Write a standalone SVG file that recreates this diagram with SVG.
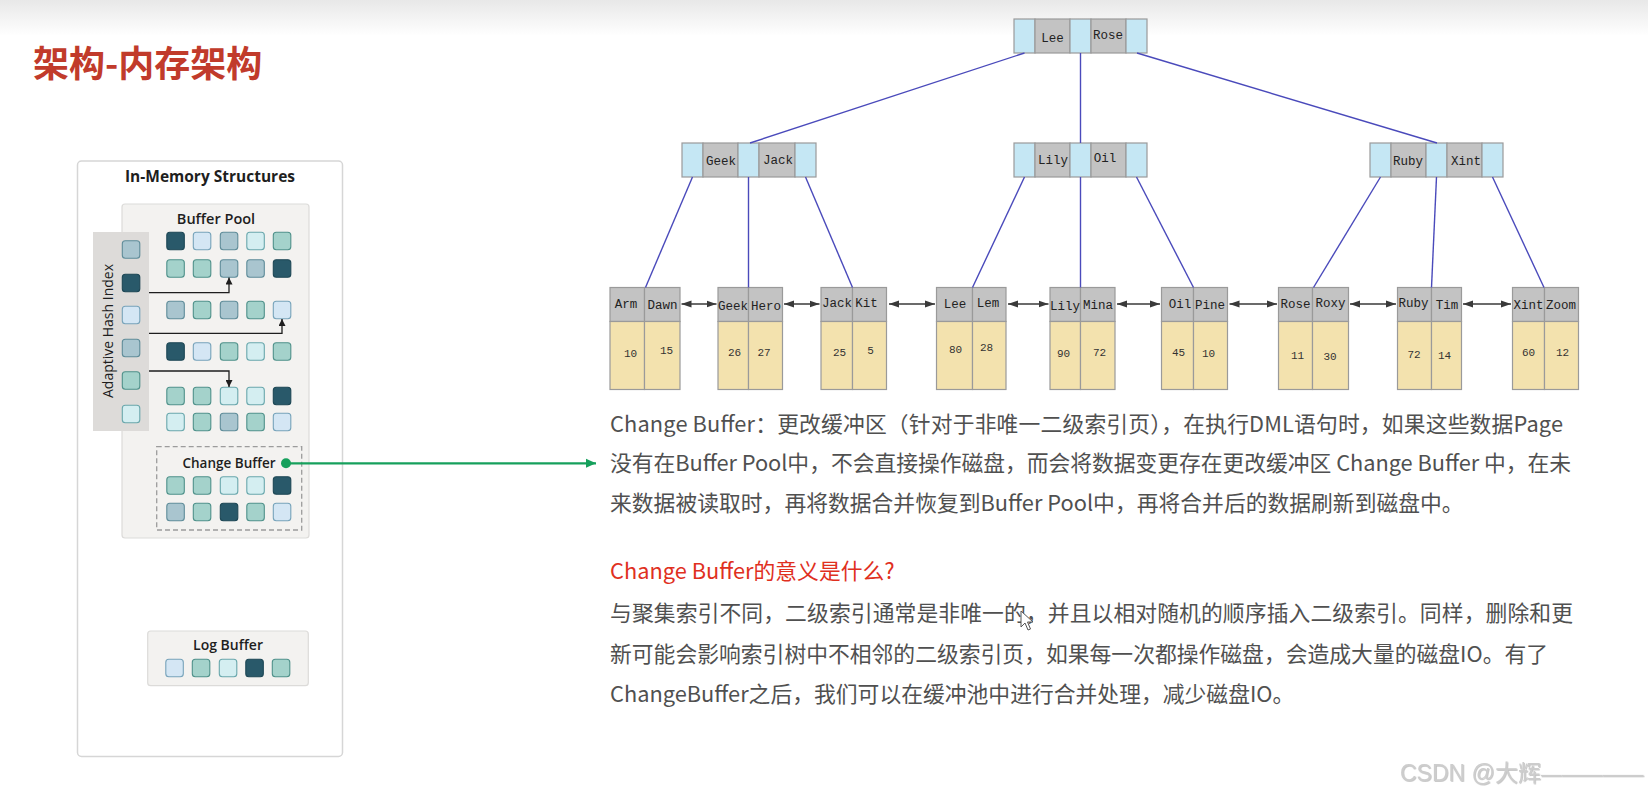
<svg xmlns="http://www.w3.org/2000/svg" width="1648" height="803" viewBox="0 0 1648 803">
<defs>
<linearGradient id="topfade" x1="0" y1="0" x2="0" y2="1">
<stop offset="0" stop-color="#e8e8e8"/>
<stop offset="1" stop-color="#ffffff"/>
</linearGradient>
<marker id="ahBlack" viewBox="0 0 8 8" refX="8" refY="4" markerWidth="7" markerHeight="7" markerUnits="userSpaceOnUse" orient="auto"><path d="M0,0 L8,4 L0,8 Z" fill="#1e1e1e"/></marker>
<marker id="ahLeaf" viewBox="0 0 10 8" refX="10" refY="4" markerWidth="10" markerHeight="8" markerUnits="userSpaceOnUse" orient="auto-start-reverse"><path d="M0,0.6 L10,4 L0,7.4 Z" fill="#3a3a3a"/></marker>
<marker id="ahGreen" viewBox="0 0 10 10" refX="10" refY="5" markerWidth="10" markerHeight="10" markerUnits="userSpaceOnUse" orient="auto"><path d="M0,0.5 L10,5 L0,9.5 Z" fill="#16a05c"/></marker>
<filter id="emboss" x="-5%" y="-20%" width="110%" height="140%"><feDropShadow dx="0.8" dy="0.8" stdDeviation="0.4" flood-color="#7a7a7a" flood-opacity="0.5"/></filter>
</defs>
<style>
.sq{stroke-width:1.1}
.d{fill:#29596a;stroke:#1d4755}
.g{fill:#a9c5cf;stroke:#5f8c99}
.t{fill:#a4d2cb;stroke:#4f918a}
.b{fill:#d4e6f4;stroke:#77a3ba}
.c{fill:#d4eef1;stroke:#69a7ac}
.blue{fill:#c5e7f4;stroke:#9a9a9a;stroke-width:1.2}
.gray{fill:#c3c3c3;stroke:#9a9a9a;stroke-width:1.2}
.data{fill:#f3e2ae;stroke:#9a9a9a;stroke-width:1.2}
.mono{font-family:"Liberation Mono","Courier New",monospace;font-size:12.5px;fill:#222;text-anchor:middle}
.num{font-family:"Liberation Mono","Courier New",monospace;font-size:11px;fill:#333;text-anchor:middle}
.link{stroke:#4a4abb;stroke-width:1.4;fill:none}
.dbl{stroke:#3a3a3a;stroke-width:1.3;fill:none;marker-start:url(#ahLeaf);marker-end:url(#ahLeaf)}
.hash{stroke:#1e1e1e;stroke-width:1.3;fill:none;marker-end:url(#ahBlack)}
.panel{fill:#f3f2f0;stroke:#dcdbd9;stroke-width:1.2}
.os{font-family:"Open Sans","Liberation Sans",sans-serif;fill:#1e1e1e;text-anchor:middle}
.para{font-family:"Noto Sans CJK SC","Noto Sans",sans-serif;font-size:21.8px;fill:#505050}
</style>

<rect x="0" y="0" width="1648" height="36" fill="url(#topfade)"/>

<text x="33" y="77" font-family="Noto Sans CJK SC, sans-serif" font-size="36" font-weight="700" fill="#c13b2b">架构-内存架构</text>

<!-- Left panel -->
<g id="in-memory-structures">
<rect x="77.5" y="161" width="265" height="595.5" rx="4" fill="#ffffff" stroke="#d6d6d6" stroke-width="1.5"/>
<text class="os" x="210" y="182" font-size="15.5" font-weight="700">In-Memory Structures</text>
</g>

<g id="buffer-pool">
<rect class="panel" x="122" y="204" width="187" height="334" rx="3"/>
<text class="os" x="216" y="224" font-size="14.5" font-weight="600">Buffer Pool</text>
<rect class="sq d" x="166.8" y="232.3" width="17.5" height="17.5" rx="3"/>
<rect class="sq b" x="193.3" y="232.3" width="17.5" height="17.5" rx="3"/>
<rect class="sq g" x="220.3" y="232.3" width="17.5" height="17.5" rx="3"/>
<rect class="sq c" x="246.8" y="232.3" width="17.5" height="17.5" rx="3"/>
<rect class="sq t" x="273.3" y="232.3" width="17.5" height="17.5" rx="3"/>
<rect class="sq t" x="166.8" y="259.8" width="17.5" height="17.5" rx="3"/>
<rect class="sq t" x="193.3" y="259.8" width="17.5" height="17.5" rx="3"/>
<rect class="sq g" x="220.3" y="259.8" width="17.5" height="17.5" rx="3"/>
<rect class="sq g" x="246.8" y="259.8" width="17.5" height="17.5" rx="3"/>
<rect class="sq d" x="273.3" y="259.8" width="17.5" height="17.5" rx="3"/>
<rect class="sq g" x="166.8" y="301.3" width="17.5" height="17.5" rx="3"/>
<rect class="sq t" x="193.3" y="301.3" width="17.5" height="17.5" rx="3"/>
<rect class="sq g" x="220.3" y="301.3" width="17.5" height="17.5" rx="3"/>
<rect class="sq t" x="246.8" y="301.3" width="17.5" height="17.5" rx="3"/>
<rect class="sq b" x="273.3" y="301.3" width="17.5" height="17.5" rx="3"/>
<rect class="sq d" x="166.8" y="342.8" width="17.5" height="17.5" rx="3"/>
<rect class="sq b" x="193.3" y="342.8" width="17.5" height="17.5" rx="3"/>
<rect class="sq t" x="220.3" y="342.8" width="17.5" height="17.5" rx="3"/>
<rect class="sq c" x="246.8" y="342.8" width="17.5" height="17.5" rx="3"/>
<rect class="sq t" x="273.3" y="342.8" width="17.5" height="17.5" rx="3"/>
<rect class="sq t" x="166.8" y="387.3" width="17.5" height="17.5" rx="3"/>
<rect class="sq t" x="193.3" y="387.3" width="17.5" height="17.5" rx="3"/>
<rect class="sq c" x="220.3" y="387.3" width="17.5" height="17.5" rx="3"/>
<rect class="sq c" x="246.8" y="387.3" width="17.5" height="17.5" rx="3"/>
<rect class="sq d" x="273.3" y="387.3" width="17.5" height="17.5" rx="3"/>
<rect class="sq c" x="166.8" y="413.3" width="17.5" height="17.5" rx="3"/>
<rect class="sq t" x="193.3" y="413.3" width="17.5" height="17.5" rx="3"/>
<rect class="sq g" x="220.3" y="413.3" width="17.5" height="17.5" rx="3"/>
<rect class="sq t" x="246.8" y="413.3" width="17.5" height="17.5" rx="3"/>
<rect class="sq b" x="273.3" y="413.3" width="17.5" height="17.5" rx="3"/>
</g>

<g id="adaptive-hash-index">
<rect x="93" y="232" width="56" height="199" fill="#dddbd9"/>
<text class="os" transform="translate(113,331) rotate(-90)" font-size="14" font-weight="400" fill="#2a2a2a">Adaptive Hash Index</text>
<rect class="sq g" x="122.3" y="240.8" width="17.5" height="17.5" rx="3"/>
<rect class="sq d" x="122.3" y="274.3" width="17.5" height="17.5" rx="3"/>
<rect class="sq b" x="122.3" y="306.3" width="17.5" height="17.5" rx="3"/>
<rect class="sq g" x="122.3" y="339.3" width="17.5" height="17.5" rx="3"/>
<rect class="sq t" x="122.3" y="371.8" width="17.5" height="17.5" rx="3"/>
<rect class="sq c" x="122.3" y="405.3" width="17.5" height="17.5" rx="3"/>
</g>

<g id="change-buffer">
<rect x="156.7" y="446.7" width="145" height="83.3" fill="none" stroke="#9c9c9c" stroke-width="1.3" stroke-dasharray="5,3"/>
<text class="os" x="229" y="467.5" font-size="13.5" font-weight="600">Change Buffer</text>
<rect class="sq t" x="166.8" y="476.8" width="17.5" height="17.5" rx="3"/>
<rect class="sq t" x="193.3" y="476.8" width="17.5" height="17.5" rx="3"/>
<rect class="sq c" x="220.3" y="476.8" width="17.5" height="17.5" rx="3"/>
<rect class="sq c" x="246.8" y="476.8" width="17.5" height="17.5" rx="3"/>
<rect class="sq d" x="273.3" y="476.8" width="17.5" height="17.5" rx="3"/>
<rect class="sq g" x="166.8" y="503.3" width="17.5" height="17.5" rx="3"/>
<rect class="sq t" x="193.3" y="503.3" width="17.5" height="17.5" rx="3"/>
<rect class="sq d" x="220.3" y="503.3" width="17.5" height="17.5" rx="3"/>
<rect class="sq t" x="246.8" y="503.3" width="17.5" height="17.5" rx="3"/>
<rect class="sq b" x="273.3" y="503.3" width="17.5" height="17.5" rx="3"/>
</g>

<g id="log-buffer">
<rect class="panel" x="147.7" y="631" width="160.6" height="54.7" rx="3"/>
<text class="os" x="228" y="650" font-size="14" font-weight="600">Log Buffer</text>
<rect class="sq b" x="165.8" y="659.3" width="17.5" height="17.5" rx="3"/>
<rect class="sq t" x="192.3" y="659.3" width="17.5" height="17.5" rx="3"/>
<rect class="sq c" x="219.3" y="659.3" width="17.5" height="17.5" rx="3"/>
<rect class="sq d" x="245.8" y="659.3" width="17.5" height="17.5" rx="3"/>
<rect class="sq t" x="272.3" y="659.3" width="17.5" height="17.5" rx="3"/>
</g>

<!-- B+ tree nodes -->
<g id="node-root">
<rect class="blue" x="1014" y="19" width="21" height="34"/>
<rect class="gray" x="1035" y="19" width="35" height="34"/>
<rect class="blue" x="1070" y="19" width="21" height="34"/>
<rect class="gray" x="1091" y="19" width="35" height="34"/>
<rect class="blue" x="1126" y="19" width="21" height="34"/>
<text class="mono" x="1052.5" y="42">Lee</text>
<text class="mono" x="1108" y="39">Rose</text>
</g>
<g id="node-geek-jack">
<rect class="blue" x="682" y="143" width="21" height="34"/>
<rect class="gray" x="703" y="143" width="35" height="34"/>
<rect class="blue" x="738" y="143" width="21" height="34"/>
<rect class="gray" x="759" y="143" width="36" height="34"/>
<rect class="blue" x="795" y="143" width="21" height="34"/>
<text class="mono" x="721" y="165">Geek</text>
<text class="mono" x="778" y="164">Jack</text>
</g>
<g id="node-lily-oil">
<rect class="blue" x="1014" y="143" width="21" height="34"/>
<rect class="gray" x="1035" y="143" width="35" height="34"/>
<rect class="blue" x="1070" y="143" width="21" height="34"/>
<rect class="gray" x="1091" y="143" width="35" height="34"/>
<rect class="blue" x="1126" y="143" width="21" height="34"/>
<text class="mono" x="1053" y="164">Lily</text>
<text class="mono" x="1105" y="162">Oil</text>
</g>
<g id="node-ruby-xint">
<rect class="blue" x="1370" y="143" width="21" height="34"/>
<rect class="gray" x="1391" y="143" width="35" height="34"/>
<rect class="blue" x="1426" y="143" width="21" height="34"/>
<rect class="gray" x="1447" y="143" width="35" height="34"/>
<rect class="blue" x="1482" y="143" width="21" height="34"/>
<text class="mono" x="1408" y="165">Ruby</text>
<text class="mono" x="1466" y="165">Xint</text>
</g>

<g id="leaf-arm-dawn">
<rect class="gray" x="610" y="287.5" width="34.5" height="34"/>
<rect class="gray" x="644.5" y="287.5" width="35.5" height="34"/>
<rect class="data" x="610" y="321.5" width="34.5" height="68"/>
<rect class="data" x="644.5" y="321.5" width="35.5" height="68"/>
<text class="mono" x="626" y="308">Arm</text>
<text class="mono" x="662.5" y="309">Dawn</text>
<text class="num" x="630.5" y="357">10</text>
<text class="num" x="666.5" y="354">15</text>
</g>
<g id="leaf-geek-hero">
<rect class="gray" x="718" y="287.5" width="30.5" height="34"/>
<rect class="gray" x="748.5" y="287.5" width="34" height="34"/>
<rect class="data" x="718" y="321.5" width="30.5" height="68"/>
<rect class="data" x="748.5" y="321.5" width="34" height="68"/>
<text class="mono" x="733" y="310">Geek</text>
<text class="mono" x="766" y="310">Hero</text>
<text class="num" x="734.5" y="355.5">26</text>
<text class="num" x="764" y="355.5">27</text>
</g>
<g id="leaf-jack-kit">
<rect class="gray" x="821" y="287.5" width="31.5" height="34"/>
<rect class="gray" x="852.5" y="287.5" width="34" height="34"/>
<rect class="data" x="821" y="321.5" width="31.5" height="68"/>
<rect class="data" x="852.5" y="321.5" width="34" height="68"/>
<text class="mono" x="837" y="307">Jack</text>
<text class="mono" x="866.5" y="306.5">Kit</text>
<text class="num" x="839.5" y="355.5">25</text>
<text class="num" x="870.5" y="354">5</text>
</g>
<g id="leaf-lee-lem">
<rect class="gray" x="936.5" y="287.5" width="36" height="34"/>
<rect class="gray" x="972.5" y="287.5" width="33.5" height="34"/>
<rect class="data" x="936.5" y="321.5" width="36" height="68"/>
<rect class="data" x="972.5" y="321.5" width="33.5" height="68"/>
<text class="mono" x="955" y="308">Lee</text>
<text class="mono" x="988" y="307">Lem</text>
<text class="num" x="955.5" y="352.5">80</text>
<text class="num" x="986.5" y="350.5">28</text>
</g>
<g id="leaf-lily-mina">
<rect class="gray" x="1050" y="287.5" width="30.5" height="34"/>
<rect class="gray" x="1080.5" y="287.5" width="34.5" height="34"/>
<rect class="data" x="1050" y="321.5" width="30.5" height="68"/>
<rect class="data" x="1080.5" y="321.5" width="34.5" height="68"/>
<text class="mono" x="1065" y="310">Lily</text>
<text class="mono" x="1098" y="309">Mina</text>
<text class="num" x="1063.5" y="356.5">90</text>
<text class="num" x="1099.5" y="355.5">72</text>
</g>
<g id="leaf-oil-pine">
<rect class="gray" x="1161.5" y="287.5" width="32" height="34"/>
<rect class="gray" x="1193.5" y="287.5" width="34" height="34"/>
<rect class="data" x="1161.5" y="321.5" width="32" height="68"/>
<rect class="data" x="1193.5" y="321.5" width="34" height="68"/>
<text class="mono" x="1180" y="308">Oil</text>
<text class="mono" x="1210" y="309">Pine</text>
<text class="num" x="1178.5" y="355.5">45</text>
<text class="num" x="1208.5" y="356.5">10</text>
</g>
<g id="leaf-rose-roxy">
<rect class="gray" x="1278.5" y="287.5" width="34" height="34"/>
<rect class="gray" x="1312.5" y="287.5" width="36" height="34"/>
<rect class="data" x="1278.5" y="321.5" width="34" height="68"/>
<rect class="data" x="1312.5" y="321.5" width="36" height="68"/>
<text class="mono" x="1295.5" y="308">Rose</text>
<text class="mono" x="1330.5" y="307">Roxy</text>
<text class="num" x="1297.5" y="358.5">11</text>
<text class="num" x="1330" y="360">30</text>
</g>
<g id="leaf-ruby-tim">
<rect class="gray" x="1397.5" y="287.5" width="34" height="34"/>
<rect class="gray" x="1431.5" y="287.5" width="30" height="34"/>
<rect class="data" x="1397.5" y="321.5" width="34" height="68"/>
<rect class="data" x="1431.5" y="321.5" width="30" height="68"/>
<text class="mono" x="1413.5" y="307">Ruby</text>
<text class="mono" x="1447" y="309">Tim</text>
<text class="num" x="1414" y="357.5">72</text>
<text class="num" x="1444.5" y="358.5">14</text>
</g>
<g id="leaf-xint-zoom">
<rect class="gray" x="1512.5" y="287.5" width="32" height="34"/>
<rect class="gray" x="1544.5" y="287.5" width="34" height="34"/>
<rect class="data" x="1512.5" y="321.5" width="32" height="68"/>
<rect class="data" x="1544.5" y="321.5" width="34" height="68"/>
<text class="mono" x="1528.5" y="309">Xint</text>
<text class="mono" x="1561" y="309">Zoom</text>
<text class="num" x="1528.5" y="355.5">60</text>
<text class="num" x="1562.5" y="355.5">12</text>
</g>

<!-- Connectors -->
<g id="connectors">
<line class="link" x1="1024.5" y1="53" x2="750" y2="143"/>
<line class="link" x1="1080.5" y1="53" x2="1080.5" y2="143"/>
<line class="link" x1="1137" y1="53" x2="1437" y2="143"/>
<line class="link" x1="692.5" y1="177" x2="645.5" y2="287.5"/>
<line class="link" x1="748.5" y1="177" x2="748.5" y2="287.5"/>
<line class="link" x1="805.5" y1="177" x2="852.5" y2="287.5"/>
<line class="link" x1="1024.5" y1="177" x2="972.5" y2="287.5"/>
<line class="link" x1="1080.5" y1="177" x2="1080.5" y2="287.5"/>
<line class="link" x1="1136.5" y1="177" x2="1193.5" y2="287.5"/>
<line class="link" x1="1380.5" y1="177" x2="1313.5" y2="287.5"/>
<line class="link" x1="1436.5" y1="177" x2="1431.5" y2="287.5"/>
<line class="link" x1="1492.5" y1="177" x2="1544" y2="287.5"/>
<line class="dbl" x1="681.5" y1="304" x2="716.5" y2="304"/>
<line class="dbl" x1="784" y1="304" x2="819.5" y2="304"/>
<line class="dbl" x1="889" y1="304" x2="935" y2="304"/>
<line class="dbl" x1="1008" y1="304" x2="1048.5" y2="304"/>
<line class="dbl" x1="1117" y1="304" x2="1160" y2="304"/>
<line class="dbl" x1="1229.5" y1="304" x2="1277" y2="304"/>
<line class="dbl" x1="1350" y1="304" x2="1396" y2="304"/>
<line class="dbl" x1="1463" y1="304" x2="1511" y2="304"/>
<polyline class="hash" points="149,292.7 229,292.7 229,277.5"/>
<polyline class="hash" points="149,333.3 282,333.3 282,319"/>
<polyline class="hash" points="149,371 229,371 229,387"/>
<line x1="286" y1="463.3" x2="596" y2="463.3" stroke="#16a05c" stroke-width="2.2" marker-end="url(#ahGreen)"/>
<circle cx="286" cy="463.3" r="5" fill="#16a05c"/>
</g>

<!-- Explanation text -->
<g id="explanation">
<text class="para" x="610" y="432" textLength="953" lengthAdjust="spacing">Change Buffer：更改缓冲区（针对于非唯一二级索引页），在执行DML语句时，如果这些数据Page</text>
<text class="para" x="610" y="471" textLength="961" lengthAdjust="spacing">没有在Buffer Pool中，不会直接操作磁盘，而会将数据变更存在更改缓冲区 Change Buffer 中，在未</text>
<text class="para" x="610" y="511">来数据被读取时，再将数据合并恢复到Buffer Pool中，再将合并后的数据刷新到磁盘中。</text>
<text class="para" x="610" y="579" style="fill:#e0301e">Change Buffer的意义是什么?</text>
<text class="para" x="610" y="621" textLength="963" lengthAdjust="spacing">与聚集索引不同，二级索引通常是非唯一的，并且以相对随机的顺序插入二级索引。同样，删除和更</text>
<text class="para" x="610" y="662">新可能会影响索引树中不相邻的二级索引页，如果每一次都操作磁盘，会造成大量的磁盘IO。有了</text>
<text class="para" x="610" y="702">ChangeBuffer之后，我们可以在缓冲池中进行合并处理，减少磁盘IO。</text>
</g>

<path d="M1021,611 L1021,627 L1025,623 L1028,630 L1030.5,629 L1027.5,622 L1033,622 Z" fill="#ffffff" stroke="#555" stroke-width="1"/>

<text x="1400" y="781" font-family="Liberation Sans, Noto Sans CJK SC, sans-serif" font-size="23" fill="#cdcdcd" filter="url(#emboss)">CSDN @大辉<tspan font-size="20.5">—————</tspan></text>
</svg>
